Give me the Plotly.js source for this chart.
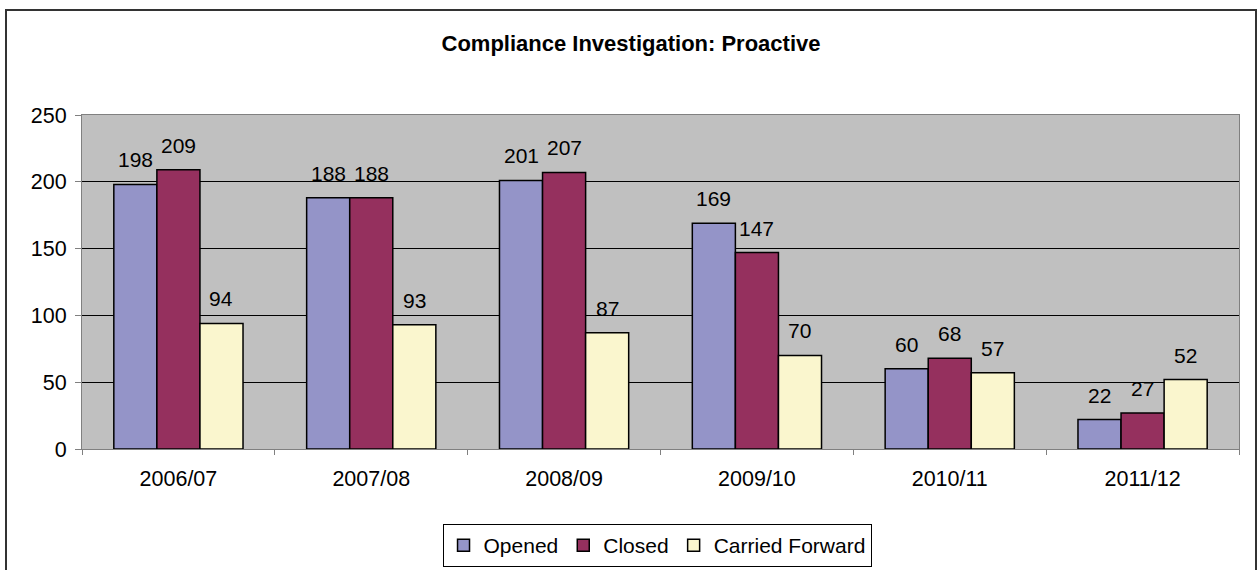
<!DOCTYPE html>
<html>
<head>
<meta charset="utf-8">
<script src="https://cdn.plot.ly/plotly-3.0.1.min.js"></script>
<style>html,body{margin:0;padding:0;background:#fff;}#chart{width:1257px;height:570px;}</style>
</head>
<body>
<div id="chart"></div>
<script>
const categories = ["2006/07", "2007/08", "2008/09", "2009/10", "2010/11", "2011/12"];
const opened = [198, 188, 201, 169, 60, 22];
const closed = [209, 188, 207, 147, 68, 27];
const carriedForward = [94, 93, 87, 70, 57, 52];
const seriesNames = ["Opened", "Closed", "Carried Forward"];
const seriesColors = ["#9494C8", "#95305E", "#FAF6CE"];

const FONT = "Arial, 'Liberation Sans', sans-serif";
const seriesData = [opened, closed, carriedForward];
const bargap = 0.33;

const traces = seriesData.map((vals, j) => ({
  type: "bar",
  name: seriesNames[j],
  x: categories,
  y: vals,
  marker: {color: seriesColors[j], line: {color: "#000", width: 1.5}},
  hoverinfo: "x+y+name"
}));

const barW = (1 - bargap) / seriesData.length;
const annotations = [];
seriesData.forEach((vals, j) => {
  vals.forEach((v, i) => {
    annotations.push({
      x: i + (j - (seriesData.length - 1) / 2) * barW,
      y: v,
      xref: "x", yref: "y",
      text: String(v),
      showarrow: false,
      yanchor: "bottom",
      yshift: 11,
      font: {family: FONT, size: 21, color: "#000"}
    });
  });
});

const layout = {
  width: 1257, height: 570,
  margin: {l: 82, r: 18, t: 115, b: 121, autoexpand: false},
  paper_bgcolor: "#fff",
  plot_bgcolor: "#C0C0C0",
  barmode: "group",
  bargap: bargap,
  bargroupgap: 0,
  title: {
    text: "<b>Compliance Investigation: Proactive</b>",
    font: {family: FONT, size: 22, color: "#000"},
    x: 0.502, xanchor: "center",
    y: 1 - 43 / 570, yref: "container", yanchor: "middle"
  },
  xaxis: {
    type: "category",
    tickson: "boundaries",
    ticks: "outside", ticklen: 5, tickcolor: "#808080", tickwidth: 1,
    showline: true, linecolor: "#808080", linewidth: 1, mirror: true,
    showgrid: false,
    tickfont: {family: FONT, size: 21.5, color: "#000"},
    ticklabelstandoff: 10
  },
  yaxis: {
    range: [0, 250], dtick: 50,
    ticks: "outside", ticklen: 6, tickcolor: "#808080", tickwidth: 1,
    showline: true, linecolor: "#808080", linewidth: 1, mirror: true,
    showgrid: true, gridcolor: "#000", gridwidth: 1,
    zeroline: false,
    tickfont: {family: FONT, size: 21.5, color: "#000"},
    ticklabelstandoff: 4
  },
  showlegend: true,
  legend: {
    orientation: "h",
    x: 0.497, xanchor: "center",
    y: -0.2246, yanchor: "top",
    bordercolor: "#000", borderwidth: 1,
    font: {family: FONT, size: 21, color: "#000"},
    itemwidth: 30,
    traceorder: "normal"
  },
  annotations: annotations,
  shapes: [{
    type: "rect", xref: "paper", yref: "paper",
    x0: (6 - 82) / 1157, x1: (1256 - 82) / 1157,
    y0: (449 - 600) / 334, y1: (449 - 10) / 334,
    line: {color: "#333", width: 2}, fillcolor: "rgba(0,0,0,0)", layer: "below"
  }],
  font: {family: FONT}
};

Plotly.newPlot("chart", traces, layout, {displayModeBar: false, staticPlot: true});
</script>
</body>
</html>
